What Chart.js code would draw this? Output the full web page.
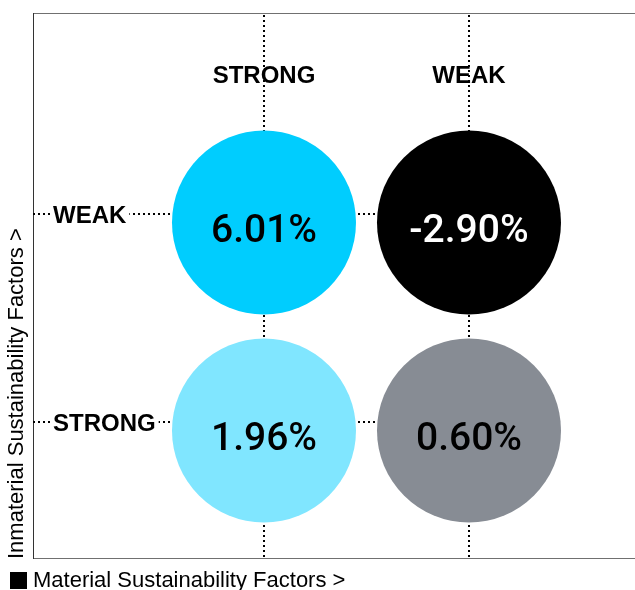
<!DOCTYPE html>
<html lang="en">
<head>
<meta charset="UTF-8">
<title>Sustainability Factors</title>
<script src="https://cdn.jsdelivr.net/npm/chart.js"></script>
<style>
  html, body { margin: 0; padding: 0; background: #fff; overflow: hidden; }
  #wrap { width: 635px; height: 590px; }
</style>
</head>
<body>
<div id="wrap"><canvas id="matrixChart" width="635" height="590"></canvas></div>
<script>
// material factors (columns) and inmaterial factors (rows, top to bottom)
const columnLabels = ['STRONG', 'WEAK'];
const rowLabels = ['WEAK', 'STRONG'];
// returns, row by row
const returns = [6.01, -2.90, 1.96, 0.60];
const bubbleColors = ['#00cdfe', '#000000', '#80e6ff', '#878c94'];
const valueColors = ['#000000', '#ffffff', '#000000', '#000000'];

const points = [];
rowLabels.forEach(function(row, r) {
    columnLabels.forEach(function(col, c) {
        points.push({ x: c + 1, y: rowLabels.length - r, r: 92 });
    });
});

const labelFont = 'bold 24px "Liberation Sans", Arial, sans-serif';

const matrixPlugin = {
    id: 'matrix',
    beforeDatasetsDraw(chart) {
        const { ctx, chartArea: a, scales: { x, y } } = chart;
        ctx.save();
        // frame
        ctx.lineWidth = 1;
        ctx.strokeStyle = '#707070';
        ctx.beginPath();
        ctx.moveTo(a.left, a.top + 0.5); ctx.lineTo(a.right, a.top + 0.5);
        ctx.moveTo(a.left, a.bottom - 0.5); ctx.lineTo(a.right, a.bottom - 0.5);
        ctx.stroke();
        ctx.strokeStyle = '#333';
        ctx.beginPath();
        ctx.moveTo(a.left + 0.5, a.top); ctx.lineTo(a.left + 0.5, a.bottom);
        ctx.stroke();

        // dotted guides
        ctx.strokeStyle = '#000';
        ctx.lineWidth = 2;
        ctx.setLineDash([2, 3]);
        columnLabels.forEach(function(col, c) {
            const px = Math.round(x.getPixelForValue(c + 1));
            ctx.beginPath();
            ctx.moveTo(px, a.top + 2);
            ctx.lineTo(px, a.bottom);
            ctx.stroke();
        });
        const lastX = x.getPixelForValue(columnLabels.length);
        rowLabels.forEach(function(row, r) {
            const py = Math.round(y.getPixelForValue(rowLabels.length - r)) - 8;
            ctx.beginPath();
            ctx.moveTo(a.left, py);
            ctx.lineTo(lastX, py);
            ctx.stroke();
        });
        ctx.setLineDash([]);

        // column headers
        ctx.font = labelFont;
        ctx.fillStyle = '#000';
        ctx.textAlign = 'center';
        ctx.textBaseline = 'middle';
        columnLabels.forEach(function(col, c) {
            ctx.fillText(col, x.getPixelForValue(c + 1), a.top + 63);
        });

        // row headers with white backing
        ctx.textAlign = 'left';
        rowLabels.forEach(function(row, r) {
            const py = Math.round(y.getPixelForValue(rowLabels.length - r)) - 8;
            const w = ctx.measureText(row).width;
            ctx.fillStyle = '#fff';
            ctx.fillRect(a.left + 17, py - 5, w + 6, 10);
            ctx.fillStyle = '#000';
            ctx.fillText(row, a.left + 20, py + 2);
        });
        ctx.restore();
    },
    afterDatasetsDraw(chart) {
        const { ctx } = chart;
        const meta = chart.getDatasetMeta(0);
        ctx.save();
        ctx.font = '500 39px Roboto, sans-serif';
        ctx.textAlign = 'center';
        ctx.textBaseline = 'middle';
        meta.data.forEach(function(el, i) {
            ctx.fillStyle = valueColors[i];
            ctx.fillText(returns[i].toFixed(2) + '%', el.x, el.y + 10);
        });
        ctx.restore();
    },
    afterDraw(chart) {
        // legend square next to the x-axis title
        const { ctx, chartArea: a } = chart;
        ctx.save();
        ctx.fillStyle = '#000';
        ctx.fillRect(a.left - 23, a.bottom + 13, 17, 17);
        ctx.restore();
    }
};

const ctx = document.getElementById('matrixChart').getContext('2d');
new Chart(ctx, {
    type: 'bubble',
    data: {
        datasets: [{
            label: 'Returns',
            data: points,
            backgroundColor: bubbleColors,
            borderWidth: 0,
            hoverRadius: 0,
            hoverBorderWidth: 0
        }]
    },
    options: {
        responsive: false,
        animation: false,
        events: [],
        layout: { autoPadding: false, padding: { top: 13, right: 0, bottom: 0, left: 0 } },
        scales: {
            x: {
                type: 'linear',
                min: -0.1268,
                max: 2.8098,
                grid: { display: false, drawTicks: false },
                border: { display: false },
                ticks: { display: false },
                title: {
                    display: true,
                    text: 'Material Sustainability Factors >',
                    align: 'start',
                    color: '#000',
                    font: { family: '"Liberation Sans", Arial, sans-serif', size: 22, lineHeight: 1.2 },
                    padding: { top: 8.6, bottom: -4 }
                }
            },
            y: {
                type: 'linear',
                min: 0.3822,
                max: 3.0072,
                grid: { display: false, drawTicks: false },
                border: { display: false },
                ticks: { display: false },
                title: {
                    display: true,
                    text: 'Inmaterial Sustainability Factors >',
                    align: 'start',
                    color: '#000',
                    font: { family: '"Liberation Sans", Arial, sans-serif', size: 22, lineHeight: 1.2 },
                    padding: { top: 4, bottom: 2.6 }
                }
            }
        },
        plugins: {
            legend: { display: false },
            tooltip: { enabled: false }
        }
    },
    plugins: [matrixPlugin]
});
</script>
</body>
</html>
